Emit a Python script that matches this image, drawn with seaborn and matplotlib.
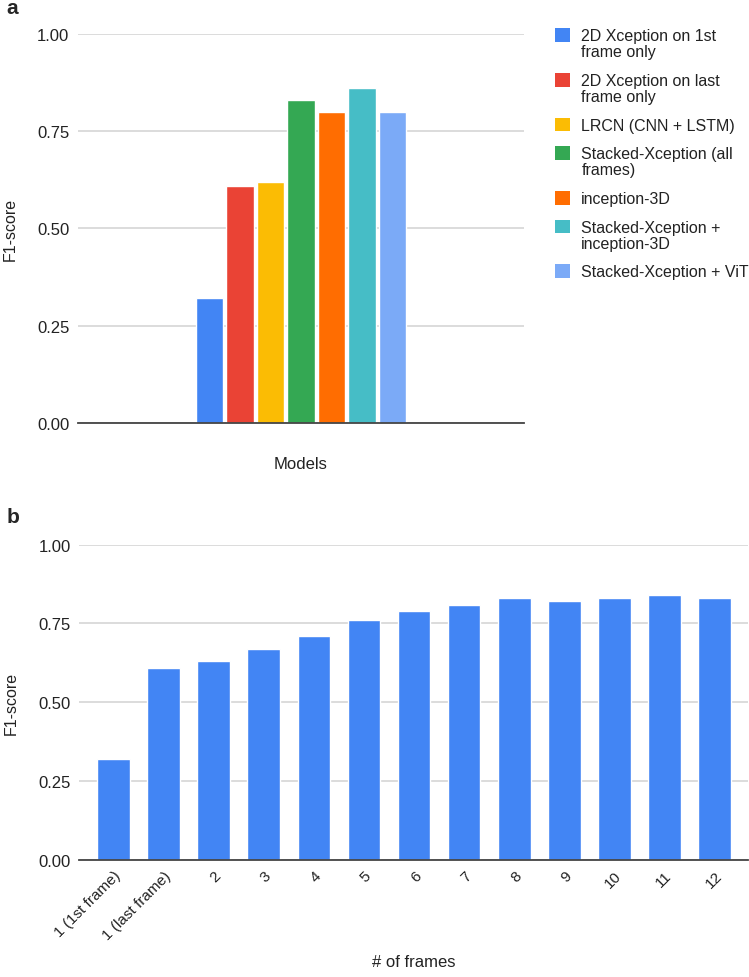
import textwrap
import pandas as pd
import matplotlib
matplotlib.use("Agg")
import matplotlib.pyplot as plt
import seaborn as sns

# panel a: model comparison
models = ["2D Xception on 1st frame only", "2D Xception on last frame only",
          "LRCN (CNN + LSTM)", "Stacked-Xception (all frames)", "inception-3D",
          "Stacked-Xception + inception-3D", "Stacked-Xception + ViT"]
model_f1 = [0.32, 0.61, 0.62, 0.83, 0.80, 0.86, 0.80]
model_colors = ["#4285F4", "#EA4335", "#FBBC04", "#34A853", "#FF6D01", "#46BDC6", "#7BAAF7"]

# panel b: number of frames
frames = ["1 (1st frame)", "1 (last frame)", "2", "3", "4", "5", "6", "7", "8", "9", "10", "11", "12"]
frames_f1 = [0.32, 0.61, 0.63, 0.67, 0.71, 0.76, 0.79, 0.81, 0.83, 0.82, 0.83, 0.84, 0.83]

yticks = [0.0, 0.25, 0.5, 0.75, 1.0]

sns.set_style("white")
plt.rcParams['font.family'] = ['Liberation Sans', 'DejaVu Sans']
txt = "#222222"
grid_c = "#d6d6d6"

fig = plt.figure(figsize=(7.49, 9.78), dpi=100)
ax1 = fig.add_axes([0.1037, 0.5665, 0.5963, 0.398])
ax2 = fig.add_axes([0.1059, 0.12, 0.8924, 0.322])

df_a = pd.DataFrame({"grp": ["Models"] * len(models), "model": models, "f1": model_f1})
sns.barplot(data=df_a, x="grp", y="f1", hue="model", hue_order=models,
            palette=model_colors, width=0.478, gap=0.1, saturation=1,
            legend=False, ax=ax1, zorder=3)

df_b = pd.DataFrame({"frames": frames, "f1": frames_f1})
sns.barplot(data=df_b, x="frames", y="f1", order=frames, color="#4285F4",
            width=0.65, saturation=1, ax=ax2, zorder=3)

for ax in (ax1, ax2):
    ax.set_ylim(0, 1.0)
    ax.set_yticks(yticks)
    ax.set_yticklabels([f"{v:.2f}" for v in yticks])
    ax.yaxis.grid(True, color=grid_c, linewidth=1.2, zorder=0)
    ax.set_axisbelow(True)
    for s in ["top", "right", "left"]:
        ax.spines[s].set_visible(False)
    ax.spines["bottom"].set_color("#444444")
    ax.spines["bottom"].set_linewidth(1.3)
    ax.spines["bottom"].set_zorder(4)
    ax.tick_params(length=0, labelsize=12, colors=txt, pad=6)
    ax.set_ylabel("F1-score", fontsize=11.5, color=txt)

ax1.set_xlim(-0.5, 0.5)
ax1.set_xticks([])
ax1.set_xlabel("Models", fontsize=12, color=txt)
ax1.xaxis.set_label_coords(0.5, -0.085)
ax1.yaxis.set_label_coords(-0.135, 0.5)

ax2.set_xlim(-0.68, 12.66)
ax2.set_xticks(range(len(frames)))
ax2.set_xticklabels(frames, rotation=45, ha="right", va="top", rotation_mode="anchor", fontsize=11)
ax2.set_xlabel("# of frames", fontsize=12, color=txt)
ax2.xaxis.set_label_coords(0.5, -0.30)
ax2.yaxis.set_label_coords(-0.09, 0.5)

# legend for panel a
handles = [plt.Rectangle((0, 0), 1, 1, facecolor=c, edgecolor="none") for c in model_colors]
labels = [textwrap.fill(m, 22) for m in models]
leg = fig.legend(handles, labels, loc="upper left", bbox_to_anchor=(0.7218, 0.985),
                 frameon=False, fontsize=11.5, handlelength=0.95, handleheight=0.95,
                 handletextpad=0.7, labelspacing=0.85, labelcolor=txt)
for t in leg.get_texts():
    t.set_linespacing(1.1)
# keep each swatch level with the first line of its label
for col in leg._legend_handle_box.get_children():
    for item in col.get_children():
        item.align = "top"

fig.text(0.009, 0.986, "a", fontsize=15, fontweight="bold", va="baseline")
fig.text(0.009, 0.465, "b", fontsize=15, fontweight="bold", va="baseline")

fig.savefig("out.png", dpi=100)
